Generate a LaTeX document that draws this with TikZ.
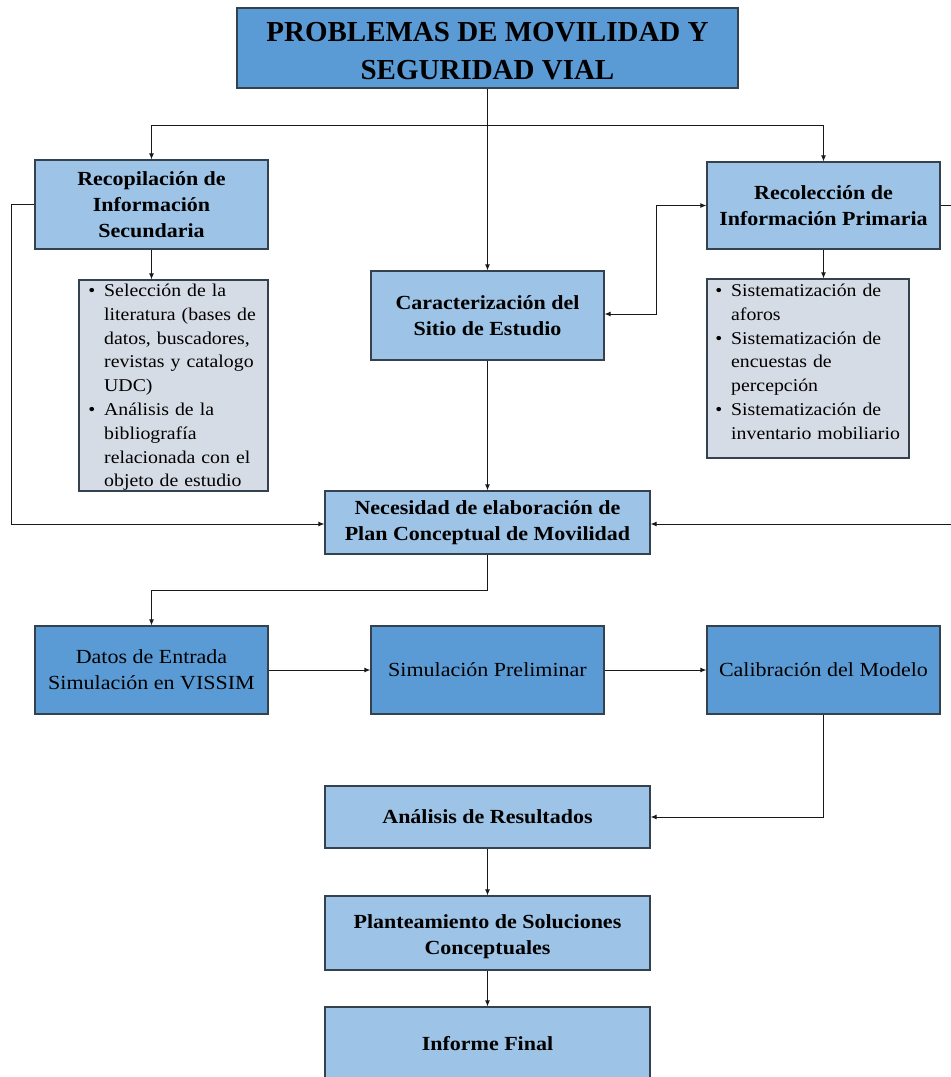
\documentclass[tikz,border=0pt]{standalone}
\usepackage{fontspec}
\setmainfont{Liberation Serif}
\newfontfamily\boxfont{Liberation Serif}[FakeStretch=1.1]
\usetikzlibrary{arrows.meta}
\definecolor{dblue}{HTML}{5B9BD5}
\definecolor{lblue}{HTML}{9DC3E6}
\definecolor{gbox}{HTML}{D6DCE5}
\definecolor{edgec}{HTML}{34414F}
\newenvironment{blist}[1]{\begin{list}{\textbullet}{\setlength{\leftmargin}{#1}\setlength{\labelsep}{9pt}\setlength{\labelwidth}{7pt}\setlength{\itemsep}{0pt}\setlength{\topsep}{0pt}\setlength{\parsep}{0pt}\setlength{\partopsep}{0pt}}\raggedright}{\end{list}}
\begin{document}
\begin{tikzpicture}[x=1pt,y=-1pt,
  basebox/.style={draw=edgec, line width=1.2pt, inner sep=0pt, align=center},
  dbox/.style={basebox, fill=dblue},
  lbox/.style={basebox, fill=lblue},
  gboxs/.style={basebox, fill=gbox},
  btxt/.style={font=\boxfont\fontsize{20}{26}\selectfont\bfseries},
  rtxt/.style={font=\boxfont\fontsize{20}{26}\selectfont},
  ltxt/.style={font=\boxfont\fontsize{18}{23.8}\selectfont, inner sep=0pt, anchor=north west, align=left},
  arr/.style={draw=black!90, line width=1pt, -{Latex[length=6pt,width=5pt]}},
  darr/.style={draw=black!90, line width=1pt, {Latex[length=6pt,width=5pt]}-{Latex[length=6pt,width=5pt]}}
]
\path[use as bounding box, clip] (0,0) rectangle (951,1077);
\fill[white] (0,0) rectangle (951,1077);

\node[dbox, minimum width=501pt, minimum height=80pt, font=\fontsize{29}{38}\selectfont\bfseries] (title) at (487.5,48) {\rule{0pt}{26pt}PROBLEMAS DE MOVILIDAD Y\\SEGURIDAD VIAL};

\node[lbox, btxt, minimum width=233pt, minimum height=89pt] (rec) at (151.5,204.5) {Recopilación de\\Información\\Secundaria};
\node[lbox, btxt, minimum width=233pt, minimum height=87pt] (recp) at (823.5,205.5) {Recolección de\\Información Primaria};
\node[lbox, btxt, minimum width=233pt, minimum height=89pt] (car) at (487.5,315.5) {Caracterización del\\Sitio de Estudio};

\node[gboxs, minimum width=189pt, minimum height=211pt] (lst1) at (173.5,385.5) {};
\node[ltxt, text width=172pt] (lst1t) at (88,272.5) {%
\begin{blist}{16pt}
\item Selección de la\\ literatura (bases de\\ datos, buscadores,\\ revistas y catalogo\\ UDC)
\item Análisis de la\\ bibliografía\\ relacionada con el\\ objeto de estudio
\end{blist}};

\node[gboxs, minimum width=202pt, minimum height=179pt] (lst2) at (808,368.5) {};
\node[ltxt, text width=195pt] (lst2t) at (712,272.5) {%
\begin{blist}{19pt}
\item Sistematización de\\ aforos
\item Sistematización de\\ encuestas de\\ percepción
\item Sistematización de\\ inventario mobiliario
\end{blist}};

\node[lbox, btxt, minimum width=325pt, minimum height=63pt] (nec) at (487.5,522.5) {Necesidad de elaboración de\\Plan Conceptual de Movilidad};

\node[dbox, rtxt, minimum width=233pt, minimum height=88pt] (datos) at (151.5,670) {Datos de Entrada\\Simulación en VISSIM};
\node[dbox, rtxt, minimum width=233pt, minimum height=88pt] (sim) at (487.5,670) {Simulación Preliminar};
\node[dbox, rtxt, minimum width=233pt, minimum height=88pt] (cal) at (823.5,670) {Calibración del Modelo};

\node[lbox, btxt, minimum width=325pt, minimum height=62pt] (ana) at (487.5,817) {Análisis de Resultados};
\node[lbox, btxt, minimum width=325pt, minimum height=74pt] (plan) at (487.5,933) {\rule{0pt}{22pt}Planteamiento de Soluciones\\Conceptuales};
\node[lbox, btxt, minimum width=325pt, minimum height=74pt] (inf) at (487.5,1044) {Informe Final};

% connectors
\draw[arr] (title.south) -- (car.north);
\draw[arr] (title.south) -- ++(0,37) -| (rec.north);
\draw[arr] (title.south) -- ++(0,37) -| (recp.north);
\draw[arr] (rec.south) -- (rec.south |- lst1.north);
\draw[arr] (recp.south) -- (recp.south |- lst2.north);
\draw[arr] (rec.west) -- ++(-23,0) |- ([yshift=-1.5pt]nec.west);
\draw[arr] (recp.east) -- ++(13,0) |- ([yshift=-1.5pt]nec.east);
\draw[darr] ([yshift=1.5pt]car.east) -- ++(52,0) |- (recp.west);
\draw[arr] (car.south) -- (nec.north);
\draw[arr] (nec.south) -- ++(0,36) -| (datos.north);
\draw[arr] (datos) -- (sim);
\draw[arr] (sim) -- (cal);
\draw[arr] (cal.south) |- (ana.east);
\draw[arr] (ana) -- (plan);
\draw[arr] (plan) -- (inf);
\end{tikzpicture}
\end{document}
